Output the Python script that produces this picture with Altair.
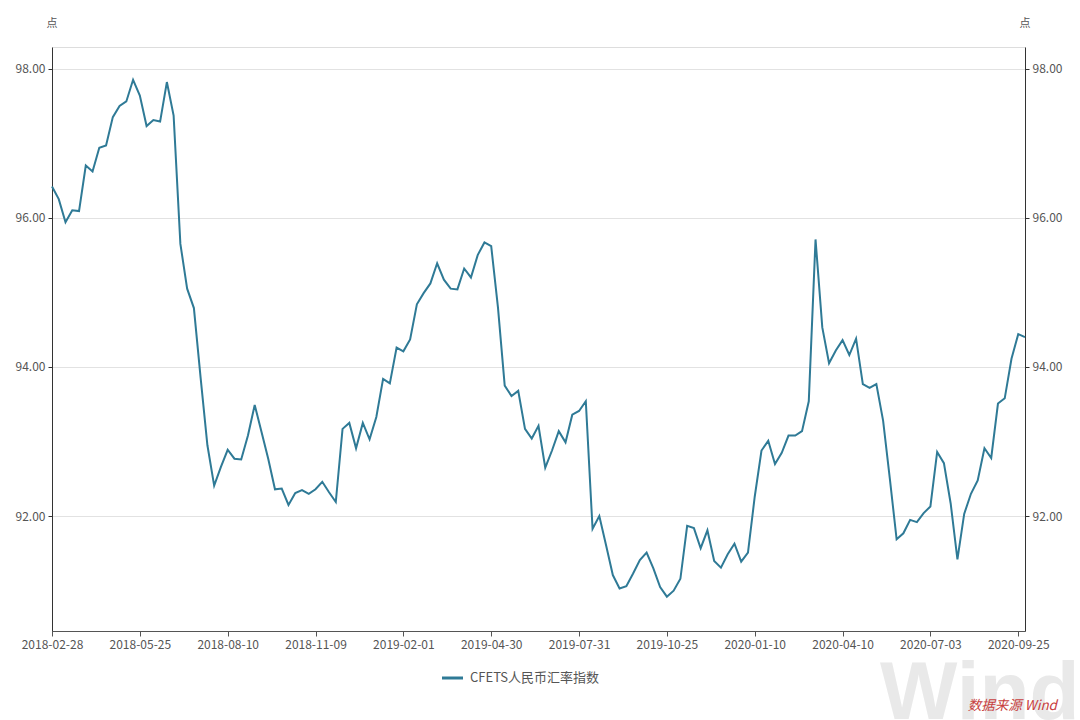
import json
import altair as alt
import pandas as pd

# Weekly CFETS RMB index values
values = [
    96.42, 96.25, 95.94, 96.10, 96.09, 96.70, 96.62, 96.94, 96.97, 97.35,
    97.50, 97.56, 97.85, 97.64, 97.23, 97.31, 97.29, 97.82, 97.37, 95.65,
    95.05, 94.79, 93.85, 92.95, 92.41, 92.66, 92.89, 92.77, 92.76, 93.08,
    93.49, 93.13, 92.77, 92.36, 92.37, 92.15, 92.31, 92.35, 92.30, 92.36,
    92.46, 92.32, 92.19, 93.17, 93.25, 92.91, 93.25, 93.03, 93.33, 93.84,
    93.78, 94.26, 94.21, 94.37, 94.84, 94.99, 95.12, 95.39, 95.17, 95.05,
    95.04, 95.32, 95.20, 95.50, 95.67, 95.62, 94.80, 93.75, 93.61, 93.68,
    93.17, 93.04, 93.21, 92.65, 92.88, 93.14, 92.99, 93.36, 93.41, 93.54,
    91.83, 92.00, 91.61, 91.21, 91.03, 91.06, 91.23, 91.41, 91.51, 91.30,
    91.05, 90.92, 91.00, 91.16, 91.87, 91.84, 91.57, 91.81, 91.40, 91.31,
    91.49, 91.63, 91.39, 91.51, 92.26, 92.88, 93.01, 92.70, 92.85, 93.08,
    93.08, 93.14, 93.54, 95.71, 94.53, 94.05, 94.22, 94.36, 94.16, 94.38,
    93.77, 93.72, 93.77, 93.28, 92.50, 91.69, 91.77, 91.95, 91.92, 92.04,
    92.13, 92.86, 92.71, 92.17, 91.42, 92.03, 92.30, 92.48, 92.91, 92.78,
    93.51, 93.58, 94.11, 94.44, 94.40,
]
tick_labels = [
    "2018-02-28", "2018-05-25", "2018-08-10", "2018-11-09", "2019-02-01",
    "2019-04-30", "2019-07-31", "2019-10-25", "2020-01-10", "2020-04-10",
    "2020-07-03", "2020-09-25",
]
tick_step = 13
y_ticks = [92, 94, 96, 98]
series_name = "CFETS人民币汇率指数"
unit = "点"
source_text = "数据来源 Wind"
watermark = "Wind"

W, H = 973, 584
FONT = "Noto Sans CJK SC"
LINE_COLOR = "#2f7a96"
TEXT_COLOR = "#555555"
y_domain = [90.46, 98.29]

df = pd.DataFrame({"i": list(range(len(values))), "v": values})
tick_pos = [k * tick_step for k in range(len(tick_labels))]
label_expr = json.dumps(tick_labels) + "[round(datum.value / %d)]" % tick_step

x_enc = alt.X(
    "i:Q",
    scale=alt.Scale(domain=[0, len(values) - 1], nice=False, zero=False),
    axis=alt.Axis(
        values=tick_pos, labelExpr=label_expr, title=None, grid=False,
        domainColor="#555555", tickColor="#555555", tickSize=5,
        labelColor=TEXT_COLOR, labelFontSize=12, labelFont=FONT,
        labelPadding=3, labelFlush=False,
    ),
)
y_scale = alt.Scale(domain=y_domain, nice=False, zero=False)

line = alt.Chart(df).mark_line(color=LINE_COLOR, strokeWidth=2).encode(
    x=x_enc,
    y=alt.Y("v:Q", scale=y_scale, axis=alt.Axis(
        orient="left", values=y_ticks, format=".2f", title=None,
        grid=True, gridColor="#e2e2e2", domainColor="#333333",
        tickColor="#333333", tickSize=4, labelColor=TEXT_COLOR,
        labelFontSize=12, labelFont=FONT, labelPadding=3,
    )),
)
line_r = alt.Chart(df).mark_line(opacity=0).encode(
    x=x_enc,
    y=alt.Y("v:Q", scale=y_scale, axis=alt.Axis(
        orient="right", values=y_ticks, format=".2f", title=None,
        grid=False, domainColor="#333333", tickColor="#333333", tickSize=4,
        labelColor=TEXT_COLOR, labelFontSize=12, labelFont=FONT, labelPadding=3,
    )),
)

one = pd.DataFrame({"t": [unit]})
unit_l = alt.Chart(one).mark_text(font=FONT, fontSize=11, color=TEXT_COLOR).encode(
    text="t:N", x=alt.value(0), y=alt.value(-23))
unit_r = alt.Chart(one).mark_text(font=FONT, fontSize=11, color=TEXT_COLOR).encode(
    text="t:N", x=alt.value(W), y=alt.value(-23))

wm = alt.Chart(pd.DataFrame({"t": [watermark]})).mark_text(
    font="Liberation Sans", fontSize=82, fontWeight="bold", color="#e9e9e9",
    align="left", baseline="alphabetic").encode(
    text="t:N", x=alt.value(828), y=alt.value(672))

src = alt.Chart(pd.DataFrame({"t": [source_text]})).mark_text(
    font=FONT, fontSize=13.5, fontStyle="italic", color="#c84040",
    align="right", baseline="middle").encode(
    text="t:N", x=alt.value(1005), y=alt.value(659))

leg_line = alt.Chart(one).mark_rule(color=LINE_COLOR, strokeWidth=3).encode(
    x=alt.value(390), x2=alt.value(411), y=alt.value(631))
leg_text = alt.Chart(pd.DataFrame({"t": [series_name]})).mark_text(
    font=FONT, fontSize=13, color=TEXT_COLOR, align="left", baseline="middle").encode(
    text="t:N", x=alt.value(418), y=alt.value(631))

chart = alt.layer(
    line, line_r, unit_l, unit_r, wm, leg_line, leg_text, src
).resolve_scale(y="independent").properties(
    width=W, height=H,
    autosize=alt.AutoSizeParams(type="none"),
    padding={"left": 52, "top": 47, "right": 55, "bottom": 89},
).configure_view(stroke="#e6e6e6").configure(background="white")

chart.save("out.html", embed_options={"renderer": "svg", "actions": False})
